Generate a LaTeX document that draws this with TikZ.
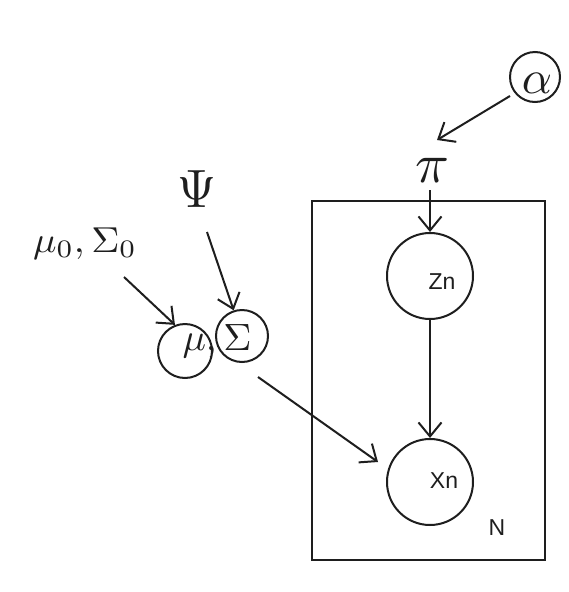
\documentclass[tikz,border=0pt]{standalone}
\usepackage{fontspec}
\newfontfamily\hv{Liberation Sans}
\usepackage{graphicx}
\usetikzlibrary{arrows.meta}
\definecolor{ink}{HTML}{1E1E1E}
\begin{document}
\begin{tikzpicture}[x=1pt,y=-1pt,
  circ/.style={circle, draw=ink, line width=2pt, inner sep=0pt},
  lbl/.style={inner sep=0pt, text=ink},
  sans/.style={lbl, font=\hv\fontsize{23}{23}\selectfont},
  arr/.style={draw=ink, line width=2pt, -{Straight Barb[length=14pt,width=23pt,line width=2pt]}}]
\useasboundingbox (0,0) rectangle (568,592);
\fill[white] (0,0) rectangle (568,592);
% plate
\node[draw=ink, line width=2pt, minimum width=233pt, minimum height=359pt, inner sep=0pt] (plate) at (428.5,380.5) {};
\node[sans] (N) at (497,528) {N};
% Zn, Xn
\node[circ, minimum size=86pt] (zn) at (430,276) {};
\node[sans] (znl) at (442,282) {Zn};
\node[circ, minimum size=86pt] (xn) at (430,482) {};
\node[sans] (xnl) at (444,481) {Xn};
% alpha, pi
\node[circ, minimum size=50pt] (al) at (535,77) {};
\node[lbl] (alt) at (537,83) {\scalebox{4.7}{$\alpha$}};
\node[lbl] (pi) at (432,170) {\scalebox{5.6}{$\pi$}};
% mu, Sigma
\node[lbl, anchor=base] (ms) at (217,350) {\scalebox{3.9}[3.8]{$\mu,\Sigma$}};
\node[circ, minimum size=54pt] (mu) at (185,351) {};
\node[circ, minimum size=52pt] (sig) at (242,336) {};
\node[lbl] (psi) at (197,189) {\scalebox{5.0}[5.4]{$\Psi$}};
\node[lbl, anchor=base] (m0) at (85,252) {\scalebox{3.9}[3.6]{$\mu_0,\Sigma_0$}};
% connector ends
\coordinate (m0e) at (124,277);
\coordinate (psie) at (207,232);
\coordinate (sige) at (258,377);
\coordinate (xne) at (378,462);
\coordinate (ale) at (510,96);
\coordinate (pie) at (437,140);
\coordinate (pis) at (430,190);
% connectors
\draw[arr] (m0e) -- (mu.111);
\draw[arr] (psie) -- (sig.108);
\draw[arr] (sige) -- (xne);
\draw[arr] (ale) -- (pie);
\draw[arr] (pis) -- (zn.north);
\draw[arr] (zn.south) -- (xn.north);
\end{tikzpicture}
\end{document}
